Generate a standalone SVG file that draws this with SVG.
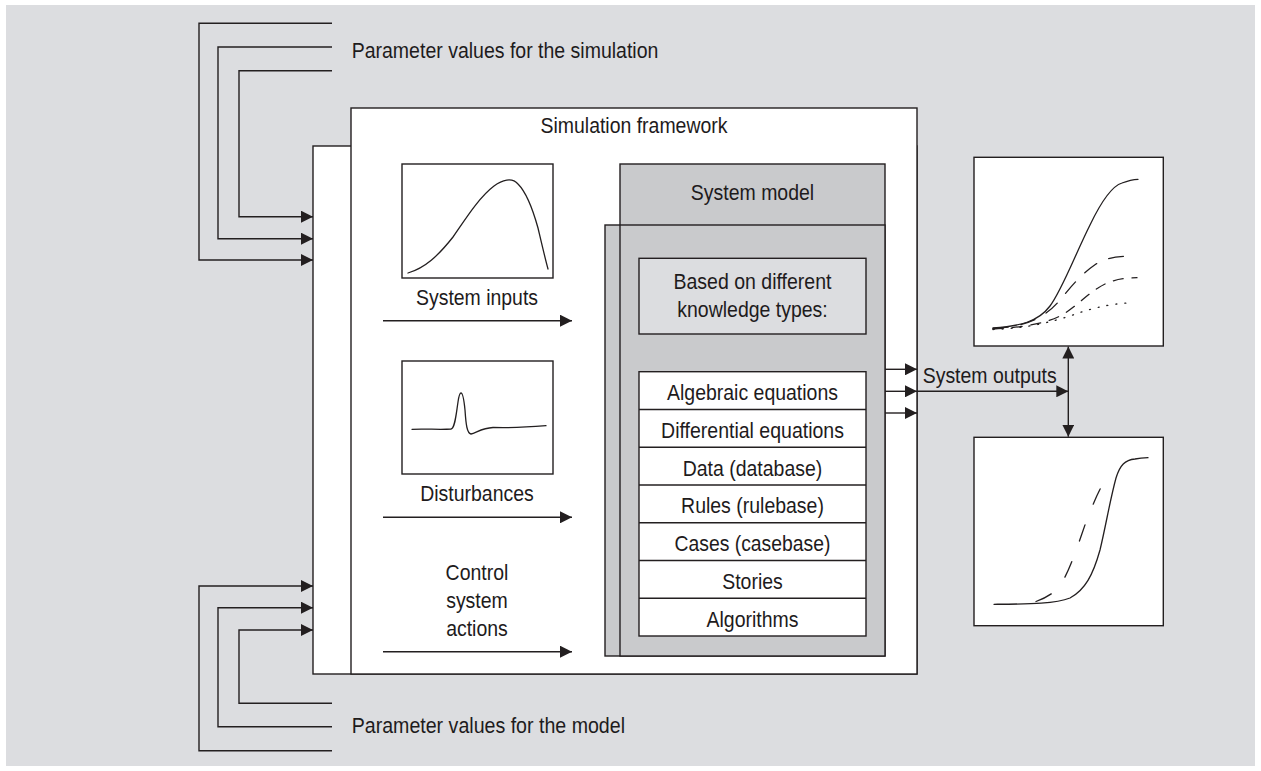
<svg xmlns="http://www.w3.org/2000/svg" width="1261" height="771" viewBox="0 0 1261 771">
  <defs>
    <marker id="arrow" viewBox="0 0 12 12" refX="12" refY="6" markerWidth="12" markerHeight="12" markerUnits="userSpaceOnUse" orient="auto-start-reverse">
      <path d="M0,0 L12,6 L0,12 Z" fill="#231f20"/>
    </marker>
  </defs>
  <style>
    .ln { fill: none; stroke: #231f20; stroke-width: 1.4; }
    .box { stroke: #231f20; stroke-width: 1.4; }
    .white { fill: #ffffff; }
    .gray { fill: #c9cacc; }
    .light { fill: #dcdde0; }
    .curve { fill: none; stroke: #231f20; stroke-width: 1.3; stroke-linecap: round; }
    text { font-family: "Liberation Sans", Arial, sans-serif; font-size: 22.5px; fill: #1e1b1c; }
    .c { text-anchor: middle; }
  </style>

  <!-- background panel -->
  <rect x="6" y="5" width="1249" height="761" fill="#dcdde0"/>

  <!-- simulation framework (two stacked white sheets) -->
  <g id="simulation-framework">
    <rect class="box white" x="313" y="146" width="604" height="528"/>
    <rect class="box white" x="351" y="108" width="566" height="566"/>
    <text class="c" x="634" y="132.7" textLength="187" lengthAdjust="spacingAndGlyphs">Simulation framework</text>
  </g>

  <!-- system inputs chart -->
  <g id="system-inputs">
    <rect class="box white" x="402" y="164" width="151" height="114"/>
    <path class="curve" d="M408,273 C425,268 438,256 453,237 C463,223 478,198 494,186 C502,180 512,177 518,184 C526,192 533,210 538,228 C542,245 545,258 548,269"/>
    <text class="c" x="477" y="305" textLength="122" lengthAdjust="spacingAndGlyphs">System inputs</text>
  </g>

  <!-- disturbances chart -->
  <g id="disturbances">
    <rect class="box white" x="402" y="361" width="151" height="113"/>
    <path class="curve" d="M412,429.3 C425,428.5 440,430 451,429 C455,428 456,415 458,402 C459,395 460,393 461,393 C463,393 464,400 465,410 C466,425 467,433 471,434 C476,433 482,428 493,427.5 C510,428 530,427 546,425.7"/>
    <text class="c" x="477" y="500.7" textLength="113.6" lengthAdjust="spacingAndGlyphs">Disturbances</text>
  </g>

  <!-- control actions label -->
  <g id="control-actions">
    <text class="c" x="477" y="580" textLength="62.8" lengthAdjust="spacingAndGlyphs">Control</text>
    <text class="c" x="477" y="608" textLength="61.7" lengthAdjust="spacingAndGlyphs">system</text>
    <text class="c" x="477" y="636" textLength="61.7" lengthAdjust="spacingAndGlyphs">actions</text>
  </g>

  <!-- system model -->
  <g id="system-model">
    <rect class="box gray" x="620" y="164" width="265" height="492"/>
    <rect class="box gray" x="605" y="225" width="280" height="431"/>
    <line class="ln" x1="620" y1="225" x2="620" y2="656"/>
    <text class="c" x="752.5" y="200" textLength="123.3" lengthAdjust="spacingAndGlyphs">System model</text>
  </g>

  <g id="knowledge-types">
    <rect class="box light" x="639" y="258.3" width="227" height="75.7"/>
    <text class="c" x="752.5" y="289.3" textLength="158" lengthAdjust="spacingAndGlyphs">Based on different</text>
    <text class="c" x="752.5" y="317.3" textLength="150.4" lengthAdjust="spacingAndGlyphs">knowledge types:</text>
  </g>

  <g id="knowledge-list">
    <rect class="box white" x="639" y="371.7" width="227" height="264.3"/>
    <line class="ln" x1="639" y1="409.5" x2="866" y2="409.5"/>
    <line class="ln" x1="639" y1="447.2" x2="866" y2="447.2"/>
    <line class="ln" x1="639" y1="485" x2="866" y2="485"/>
    <line class="ln" x1="639" y1="522.7" x2="866" y2="522.7"/>
    <line class="ln" x1="639" y1="560.5" x2="866" y2="560.5"/>
    <line class="ln" x1="639" y1="598.2" x2="866" y2="598.2"/>
    <text class="c" x="752.5" y="400" textLength="171" lengthAdjust="spacingAndGlyphs">Algebraic equations</text>
    <text class="c" x="752.5" y="437.8" textLength="182.9" lengthAdjust="spacingAndGlyphs">Differential equations</text>
    <text class="c" x="752.5" y="475.5" textLength="139.6" lengthAdjust="spacingAndGlyphs">Data (database)</text>
    <text class="c" x="752.5" y="513.3" textLength="142.8" lengthAdjust="spacingAndGlyphs">Rules (rulebase)</text>
    <text class="c" x="752.5" y="551" textLength="155.8" lengthAdjust="spacingAndGlyphs">Cases (casebase)</text>
    <text class="c" x="752.5" y="588.8" textLength="60.6" lengthAdjust="spacingAndGlyphs">Stories</text>
    <text class="c" x="752.5" y="626.5" textLength="92" lengthAdjust="spacingAndGlyphs">Algorithms</text>
  </g>

  <!-- output charts -->
  <g id="output-chart-top">
    <rect class="box white" x="974" y="157.3" width="189.3" height="188.7"/>
    <path class="curve" d="M993,328 C1020,326 1038,322 1050,306 C1062,290 1075,255 1090,225 C1102,200 1112,186 1122,183 C1130,180 1134,179.5 1138,179.3"/>
    <path class="curve" stroke-dasharray="15,13" d="M993,328.5 C1025,327 1045,318 1060,300 C1070,288 1080,275 1096,264 C1108,257 1120,256 1135,256"/>
    <path class="curve" stroke-dasharray="10,9" d="M993,329 C1030,327 1048,322 1060,316 C1075,308 1085,296 1098,288 C1110,280 1122,278 1137,277.7"/>
    <path class="curve" stroke-dasharray="1,8" d="M993,329.5 C1030,328 1050,322 1070,316 C1090,309 1105,304 1133,302.7"/>
  </g>

  <g id="output-chart-bottom">
    <rect class="box white" x="974" y="437.3" width="189.3" height="188.4"/>
    <path class="curve" d="M994,604.3 C1030,604 1055,604 1070,598 C1085,590 1093,575 1100,550 C1106,525 1110,500 1116,478 C1120,465 1125,460 1135,459 C1140,458 1144,457.8 1148,457.7"/>
    <path class="curve" stroke-dasharray="17,22" d="M1036,601.5 C1046,598 1054,593 1060,586 C1070,570 1078,545 1086,522 C1093,505 1098,490 1108,476"/>
  </g>

  <!-- connectors -->
  <g id="connectors">
    <!-- parameter values for the simulation -->
    <polyline class="ln" points="332,23.3 199,23.3 199,260 313,260" marker-end="url(#arrow)"/>
    <polyline class="ln" points="332,47 218,47 218,238.7 313,238.7" marker-end="url(#arrow)"/>
    <polyline class="ln" points="332,70.7 239,70.7 239,216.7 313,216.7" marker-end="url(#arrow)"/>
    <!-- parameter values for the model -->
    <polyline class="ln" points="332,750.7 199,750.7 199,586 313,586" marker-end="url(#arrow)"/>
    <polyline class="ln" points="332,726.7 218,726.7 218,607.7 313,607.7" marker-end="url(#arrow)"/>
    <polyline class="ln" points="332,703.3 239,703.3 239,630 313,630" marker-end="url(#arrow)"/>
    <!-- inputs into the model -->
    <line class="ln" x1="383" y1="320.7" x2="572" y2="320.7" marker-end="url(#arrow)"/>
    <line class="ln" x1="383" y1="517.3" x2="572" y2="517.3" marker-end="url(#arrow)"/>
    <line class="ln" x1="383" y1="651.7" x2="572" y2="651.7" marker-end="url(#arrow)"/>
    <!-- outputs -->
    <line class="ln" x1="885" y1="369.3" x2="917" y2="369.3" marker-end="url(#arrow)"/>
    <line class="ln" x1="885" y1="391.3" x2="917" y2="391.3" marker-end="url(#arrow)"/>
    <line class="ln" x1="885" y1="413" x2="917" y2="413" marker-end="url(#arrow)"/>
    <line class="ln" x1="917" y1="391.3" x2="1068.3" y2="391.3" marker-end="url(#arrow)"/>
    <line class="ln" x1="1068.3" y1="346.5" x2="1068.3" y2="436.7" marker-start="url(#arrow)" marker-end="url(#arrow)"/>
  </g>

  <!-- free labels -->
  <g id="labels">
    <text x="351.7" y="57.7" textLength="306.7" lengthAdjust="spacingAndGlyphs">Parameter values for the simulation</text>
    <text x="351.7" y="732.7" textLength="273.3" lengthAdjust="spacingAndGlyphs">Parameter values for the model</text>
    <text x="922.7" y="382.7" textLength="134" lengthAdjust="spacingAndGlyphs">System outputs</text>
  </g>
</svg>
